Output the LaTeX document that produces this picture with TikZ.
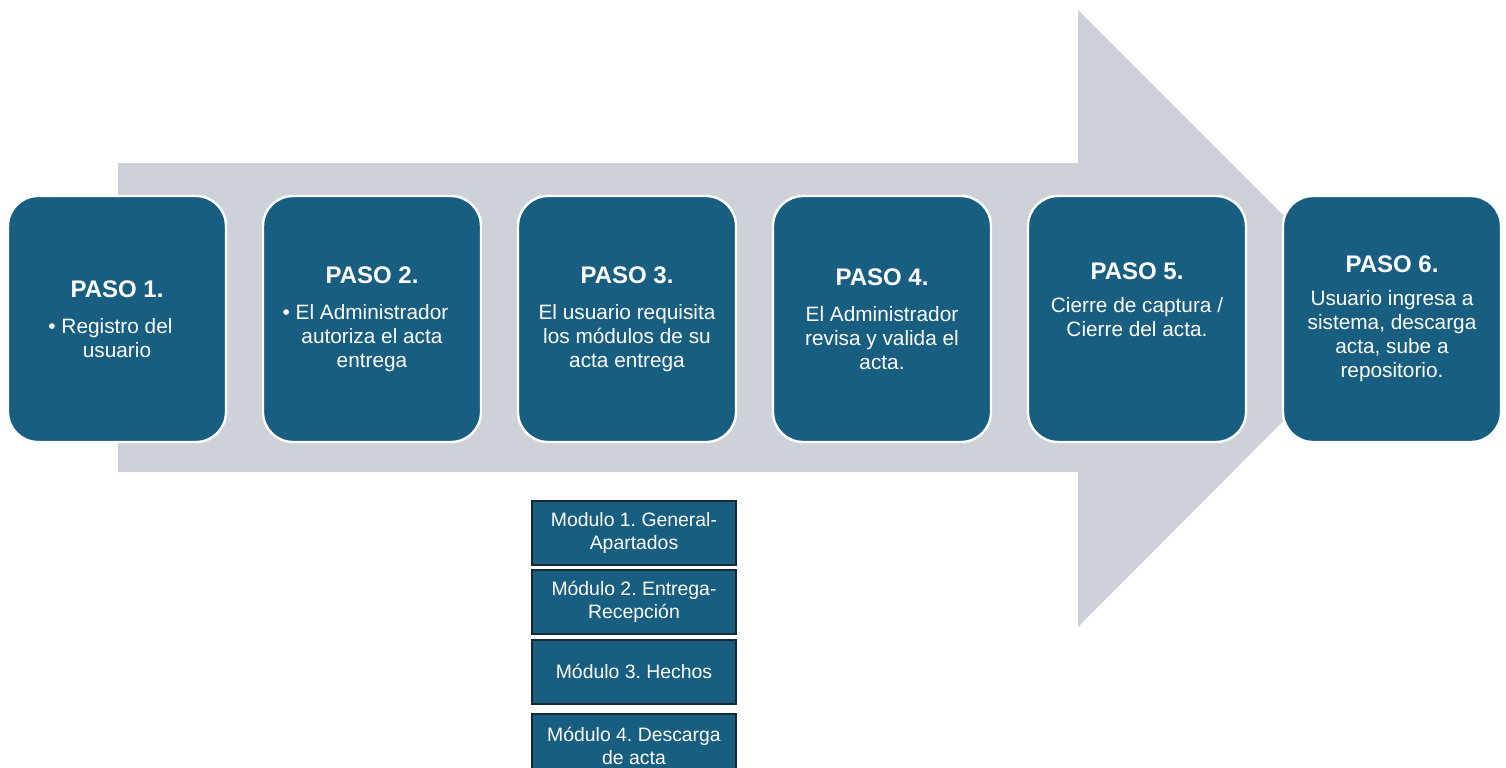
\documentclass[tikz,border=0pt]{standalone}
\usepackage{fontspec}
\setmainfont{Liberation Sans}
\usetikzlibrary{positioning}
\definecolor{pasoblue}{RGB}{23, 94, 128}
\definecolor{flechagray}{RGB}{205, 210, 217}
\definecolor{moduloedge}{RGB}{22, 42, 54}
\newcommand{\pasotit}[1]{{\bfseries\fontsize{12}{12}\selectfont #1}}

\begin{document}
\frenchspacing
\begin{tikzpicture}[
    x=0.5pt, y=-0.5pt,
    node distance=17.3pt,
    paso/.style={rectangle, rounded corners=15pt, draw=white, line width=1.2pt, fill=pasoblue,
                 minimum width=109pt, minimum height=123pt, align=center, text=white,
                 font=\fontsize{10.4}{12}\selectfont},
    modulo/.style={rectangle, draw=moduloedge, line width=1pt, fill=pasoblue,
                   minimum width=102pt, minimum height=32pt, inner sep=1pt, align=center,
                   text=white, font=\fontsize{9.7}{11.5}\selectfont}
]
    \useasboundingbox (0,0) rectangle (1506,767);
    \clip (0,0) rectangle (1506,767);

    % Big arrow behind the steps
    \fill[flechagray] (118,163) -- (1078,163) -- (1078,10) -- (1386,318)
        -- (1078,627) -- (1078,472) -- (118,472) -- cycle;

    % Steps
    \node[paso] (paso1) at (117,319) {\pasotit{PASO 1.}\\[6pt]
        \llap{\textbullet\ }Registro del\\ usuario};
    \node[paso, right=of paso1] (paso2) {\pasotit{PASO 2.}\\[6pt]
        \llap{\textbullet\ }El Administrador\\ autoriza el acta\\ entrega};
    \node[paso, right=of paso2] (paso3) {\pasotit{PASO 3.}\\[6pt]
        El usuario requisita\\ los módulos de su\\ acta entrega};
    \node[paso, right=of paso3] (paso4) {\pasotit{PASO 4.}\\[6pt]
        El Administrador\\ revisa y valida el\\ acta.};
    \node[paso, right=of paso4] (paso5) {\pasotit{PASO 5.}\\[4.5pt]
        Cierre de captura /\\ Cierre del acta.\\[7pt]\mbox{}};
    \node[paso, right=of paso5] (paso6) {\pasotit{PASO 6.}\\[4.5pt]
        Usuario ingresa a\\ sistema, descarga\\ acta, sube a\\ repositorio.};

    % Modules of step 3
    \node[modulo] (mod1) at (634,532.5) {Modulo 1. General-\\Apartados};
    \node[modulo, below=1.5pt of mod1] (mod2) {Módulo 2. Entrega-\\Recepción};
    \node[modulo, below=2pt of mod2] (mod3) {Módulo 3. Hechos};
    \node[modulo, below=4pt of mod3] (mod4) {Módulo 4. Descarga\\de acta};
\end{tikzpicture}
\end{document}
